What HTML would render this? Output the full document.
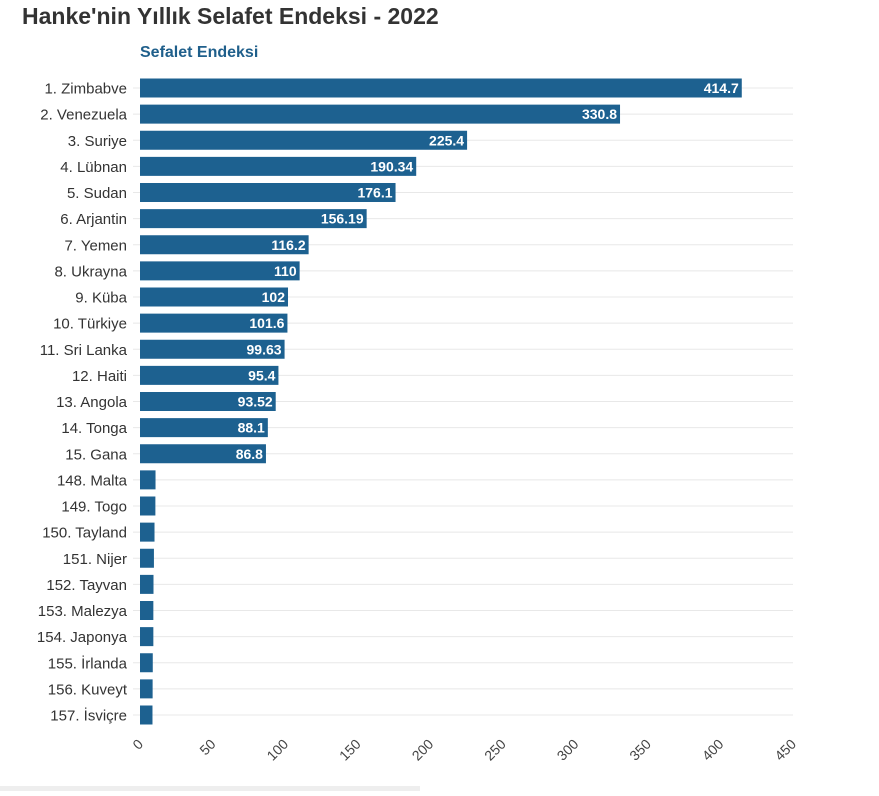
<!DOCTYPE html>
<html><head><meta charset="utf-8">
<style>
body{margin:0;background:#fff;width:879px;height:791px;overflow:hidden;font-family:"Liberation Sans",sans-serif;}
svg text{font-family:"Liberation Sans",sans-serif;}
</style></head>
<body>
<svg id="chart" width="879" height="791" xmlns="http://www.w3.org/2000/svg">
<text x="22" y="24" font-size="23" font-weight="bold" fill="#333">Hanke'nin Yıllık Selafet Endeksi - 2022</text>
<text x="140" y="57" font-size="16" font-weight="bold" fill="#1f5f8b">Sefalet Endeksi</text>
<g id="grid"></g><g id="bars"></g><g id="labels"></g><g id="xaxis"></g>
<rect x="0" y="786" width="420" height="5" fill="#eee"/>
</svg>
<script>
const categories=["1. Zimbabve","2. Venezuela","3. Suriye","4. Lübnan","5. Sudan","6. Arjantin","7. Yemen","8. Ukrayna","9. Küba","10. Türkiye","11. Sri Lanka","12. Haiti","13. Angola","14. Tonga","15. Gana","148. Malta","149. Togo","150. Tayland","151. Nijer","152. Tayvan","153. Malezya","154. Japonya","155. İrlanda","156. Kuveyt","157. İsviçre"];
const values=[414.7,330.8,225.4,190.34,176.1,156.19,116.2,110,102,101.6,99.63,95.4,93.52,88.1,86.8,10.7,10.6,10,9.6,9.3,9.2,9.2,8.8,8.7,8.6];
const printed=["414.7","330.8","225.4","190.34","176.1","156.19","116.2","110","102","101.6","99.63","95.4","93.52","88.1","86.8","","","","","","","","","",""];
const ticks=[0,50,100,150,200,250,300,350,400,450];
const NS="http://www.w3.org/2000/svg";
const x=v=>140+v*(653/450);
const y=i=>88+i*26.125;
const mk=(t,a,p)=>{const e=document.createElementNS(NS,t);for(const k in a)e.setAttribute(k,a[k]);document.getElementById(p).appendChild(e);return e;};
categories.forEach((c,i)=>{
 const g=mk("line",{x1:133,x2:793,y1:y(i),y2:y(i),stroke:"#e8e8e8","stroke-width":1},"grid");
 
 
 const b=mk("rect",{x:x(0),y:y(i)-9.5,width:x(values[i])-x(0),height:19,fill:"#1d6190"},"bars");
 
 
 const l=mk("text",{x:127,y:y(i)+5.5,"font-size":15,"text-anchor":"end",fill:"#333"},"labels");
 l.textContent=c;
 
 
 if(printed[i]){
  const v=mk("text",{x:x(values[i])-3,y:y(i)+5,"font-size":14,"font-weight":"bold","text-anchor":"end",fill:"#fff"},"labels");
  v.textContent=printed[i];
  
  
 }
});
ticks.forEach(t=>{
 const e=mk("text",{x:x(t)+4,y:745,"font-size":14,"text-anchor":"end",fill:"#444",transform:`rotate(-45 ${x(t)+4} 745)`},"xaxis");
 e.textContent=t;
 
 
});
</script>
</body></html>
